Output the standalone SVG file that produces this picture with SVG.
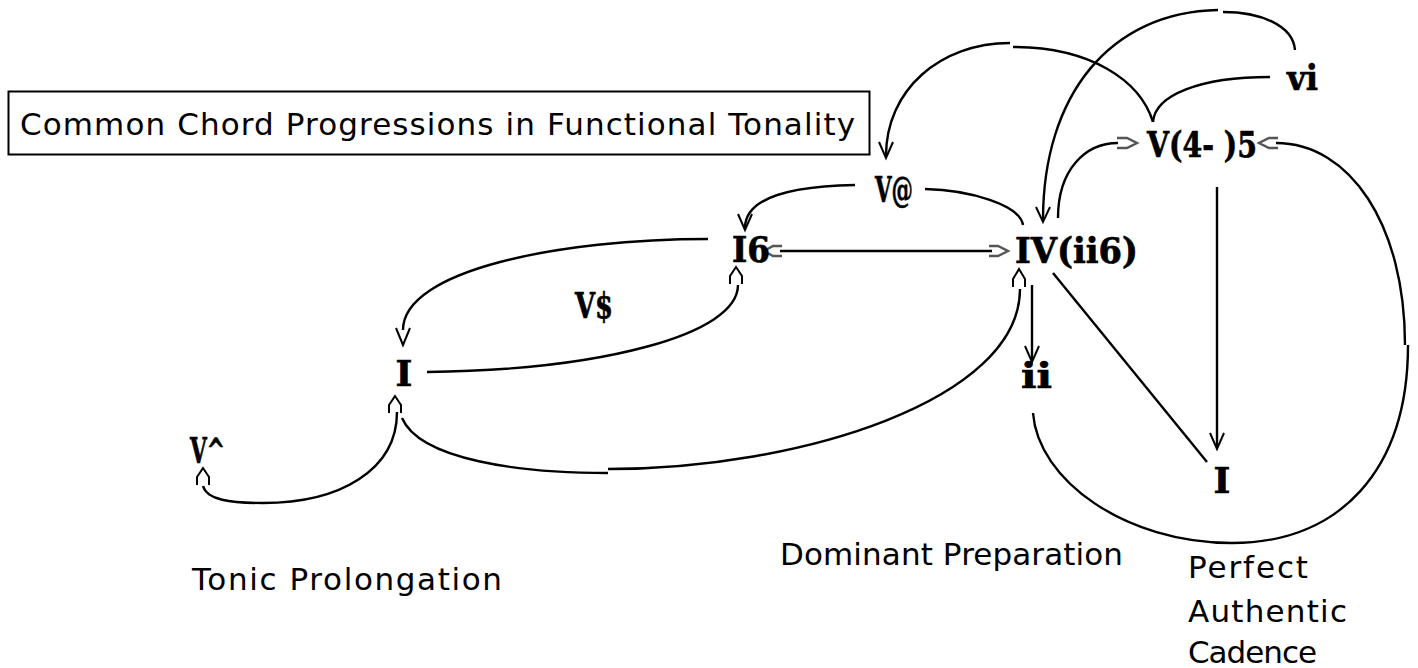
<svg xmlns="http://www.w3.org/2000/svg" width="1418" height="668" viewBox="0 0 1418 668">
<style>
.lbl{font-family:"DejaVu Sans",Verdana,sans-serif;font-size:31px;fill:#000}
.ch{font-family:"DejaVu Serif","Liberation Serif",serif;font-weight:bold;font-size:36px;fill:#000;stroke:#000;stroke-width:0.7}
.ln{fill:none;stroke:#000;stroke-width:2.4}
.ah{fill:none;stroke:#000;stroke-width:2}
.gh{fill:none;stroke:#555;stroke-width:2.4}
</style>
<rect width="1418" height="668" fill="#fff"/>
<g id="title">
<rect x="8.5" y="91.5" width="861" height="63" fill="none" stroke="#000" stroke-width="2"/>
<text class="lbl" x="20" y="135" font-size="32" textLength="835" lengthAdjust="spacing">Common Chord Progressions in Functional Tonality</text>
</g>
<g id="connectors">
<path class="ln" d="M1153,122 C1140,80 1090,47 1013,47"/>
<path class="ln" d="M1010,43 C940,43 886,90 886,156"/>
<path class="ah" d="M879,142 L886,158 L893,142"/>
<path class="ln" d="M1270,77 C1200,77 1155,95 1153,122"/>
<path class="ln" d="M1295,50 C1293,25 1260,12 1223,12"/>
<path class="ln" d="M1218,10 C1110,12 1043,95 1043,220"/>
<path class="ah" d="M1036,207 L1043,222 L1050,207"/>
<path class="ln" d="M1058,218 C1058,170 1085,143 1118,143"/>
<path class="gh" d="M1117,138 H1127 L1137,143 L1127,148 H1117"/>
<path class="ln" d="M1276,143 C1350,143 1405,225 1405,345"/>
<path class="ln" d="M1033,413 C1038,480 1125,543 1232,543 C1340,543 1408,470 1408,345"/>
<path class="gh" d="M1278,138 H1269 L1259,143 L1269,148 H1278"/>
<path class="ln" d="M1217,187 V447"/>
<path class="ah" d="M1210,433 L1217,449 L1224,433"/>
<path class="ln" d="M1053,273 L1207,462"/>
<path class="ln" d="M1032,285 V360"/>
<path class="ah" d="M1025,346 L1032,362 L1039,346"/>
<path class="ln" d="M855,185 C800,186 745,195 745,228"/>
<path class="ah" d="M738,214 L745,230 L752,214"/>
<path class="ln" d="M925,189 C970,190 1020,205 1023,225"/>
<path class="ln" d="M780,251 H992"/>
<path class="gh" d="M989,246 H998 L1008,251 L998,256 H989"/>
<path class="gh" d="M782,246 H773 L764,251 L773,256 H782"/>
<path class="ln" d="M708,239 C560,239 403,270 403,330"/>
<path class="ah" d="M396,328 L403,345 L410,328"/>
<path class="ln" d="M427,372 C600,370 738,335 738,285"/>
<path class="ah" d="M730,284 V276 L736,267 L742,276 V284"/>
<path class="ln" d="M203,486 C207,500 230,503 263,503 C340,503 397,470 397,412"/>
<path class="ah" d="M389,413 V405 L395,396 L401,405 V413"/>
<path class="ah" d="M197,485 V477 L203,468 L209,477 V485"/>
<path class="ln" d="M402,418 C420,460 520,473 608,473"/>
<path class="ln" d="M608,469 C800,469 1020,400 1020,289"/>
<path class="ah" d="M1013,287 V279 L1019,269 L1025,279 V287"/>
</g>
<g id="node-V7">
<text class="ch" x="875" y="202" font-size="30" textLength="38" lengthAdjust="spacingAndGlyphs">V@</text>
</g>
<g id="node-I6">
<text class="ch" x="732" y="262" textLength="38" lengthAdjust="spacingAndGlyphs">I6</text>
</g>
<g id="node-IV">
<text class="ch" x="1015" y="263" textLength="123" lengthAdjust="spacingAndGlyphs">IV(ii6)</text>
</g>
<g id="node-V45">
<text class="ch" x="1147" y="157" textLength="110" lengthAdjust="spacingAndGlyphs">V(4- )5</text>
</g>
<g id="node-vi">
<text class="ch" x="1287" y="90" textLength="31" lengthAdjust="spacingAndGlyphs">vi</text>
</g>
<g id="node-ii">
<text class="ch" x="1021" y="388" textLength="31" lengthAdjust="spacingAndGlyphs">ii</text>
</g>
<g id="node-I-right">
<text class="ch" x="1222" y="493" text-anchor="middle">I</text>
</g>
<g id="node-I-left">
<text class="ch" x="404" y="386" text-anchor="middle">I</text>
</g>
<g id="node-V6">
<text class="ch" x="190" y="463" font-size="30" textLength="35" lengthAdjust="spacingAndGlyphs">V^</text>
</g>
<g id="node-V43">
<text class="ch" x="575" y="318" font-size="30" textLength="38" lengthAdjust="spacingAndGlyphs">V$</text>
</g>
<g id="labels">
<text class="lbl" x="192" y="590" textLength="310" lengthAdjust="spacing">Tonic Prolongation</text>
<text class="lbl" x="780" y="565" textLength="343" lengthAdjust="spacing">Dominant Preparation</text>
<text class="lbl" x="1188" y="578" textLength="120" lengthAdjust="spacing">Perfect</text>
<text class="lbl" x="1188" y="622" textLength="159" lengthAdjust="spacing">Authentic</text>
<text class="lbl" x="1188" y="663" textLength="129" lengthAdjust="spacing">Cadence</text>
</g>
</svg>
